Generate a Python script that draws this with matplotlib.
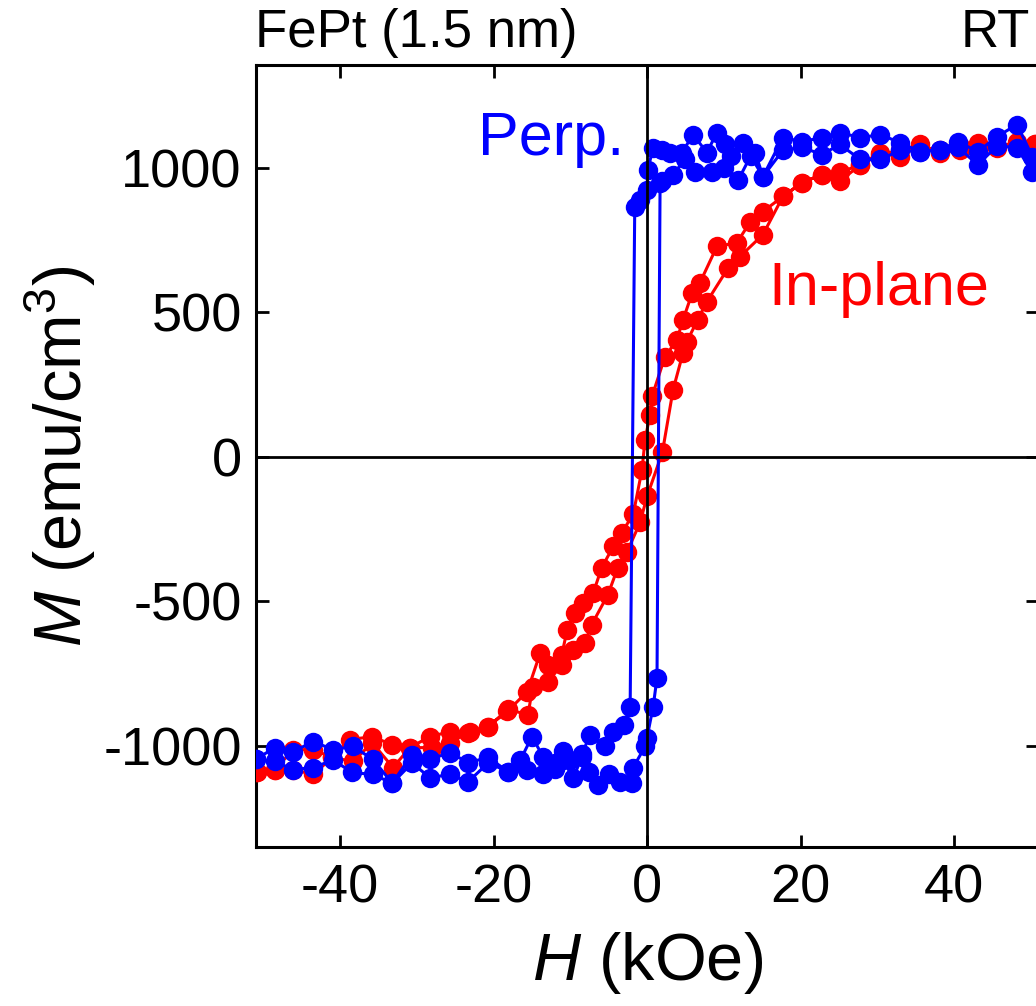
import numpy as np
import matplotlib
matplotlib.use("Agg")
import matplotlib.pyplot as plt

# ------------------------------------------------------------
# data: M-H loops of FePt (1.5 nm)
# ------------------------------------------------------------

# in-plane, field sweep +50 -> -50 kOe
inp_down_H = [50.5, 48.2, 45.6, 43.1, 40.8, 38.2, 35.6, 33.0, 30.4, 27.8, 25.1, 22.8,
              20.2, 17.7, 15.1, 13.4, 11.7, 9.1, 6.9, 5.9, 4.7, 3.9, 2.3, 0.65, 0.4,
              -0.26, -0.65, -1.8, -3.3, -4.4, -5.9, -7.0, -8.3, -9.4, -10.4, -11.1,
              -12.9, -13.9, -15.6, -18.2, -20.7, -23.3, -25.7, -28.3, -30.9, -33.2,
              -35.8, -38.7, -41.0, -43.5, -46.1, -48.5, -50.8]
inp_down_M = [1080, 1090, 1069, 1086, 1062, 1052, 1080, 1038, 1052, 1010, 983, 976,
              948, 900, 848, 810, 740, 727, 602, 567, 474, 405, 343, 208, 145,
              59, -45, -200, -263, -311, -384, -471, -505, -540, -599, -685,
              -720, -678, -813, -882, -934, -955, -952, -969, -1007, -997,
              -969, -979, -1041, -1014, -1014, -1083, -1090]

# in-plane, field sweep -50 -> +50 kOe
inp_up_H = [-50.8, -48.5, -46.1, -43.5, -41.0, -38.3, -35.8, -33.1, -30.9, -28.0, -25.7,
            -23.1, -20.7, -18.1, -15.5, -14.9, -12.9, -11.1, -9.6, -8.1, -7.2, -5.1, -3.8,
            -2.6, -0.9, 0.0, 2.0, 3.4, 4.7, 5.2, 6.6, 7.8, 10.6, 12.1, 15.1, 17.7, 20.2,
            22.8, 25.1, 27.8, 30.4, 33.0, 35.6, 38.2, 40.8, 43.1, 45.6, 48.2, 50.5]
inp_up_M = [-1090, -1083, -1083, -1100, -1041, -1055, -990, -1076, -1007, -1007, -990,
            -952, -934, -875, -893, -796, -779, -720, -668, -644, -581, -478, -384,
            -329, -228, -138, 15, 232, 360, 398, 474, 536, 654, 692, 768, 900, 948,
            976, 952, 1010, 1045, 1060, 1062, 1060, 1075, 1060, 1075, 1080, 1080]

# perpendicular, field sweep +50 -> -50 kOe
perp_down_H = [50.2, 48.2, 45.6, 43.1, 40.5, 38.2, 35.6, 33.0, 30.4, 27.8, 25.1, 22.8,
               20.2, 17.7, 15.1, 14.1, 12.5, 11.0, 10.2, 9.1, 7.8, 6.0, 4.5, 3.0, 2.0,
               0.8, 0.1, 0.0, -0.9, -1.6, -2.2, -3.0, -4.4, -5.5, -7.4, -8.5, -10.0,
               -11.0, -12.0, -13.5, -15.0, -16.5, -18.1, -20.7, -23.3, -25.7, -28.3,
               -30.6, -33.2, -35.7, -38.3, -40.9, -43.5, -46.1, -48.5, -51.0]
perp_down_M = [1038, 1149, 1107, 1055, 1090, 1062, 1055, 1086, 1114, 1104, 1121, 1104,
               1090, 1104, 969, 1052, 1086, 1040, 1080, 1121, 1052, 1114, 1050, 1052, 1060,
               1069, 993, 924, 889, 865, -865, -930, -952, -1000, -962, -1030, -1050,
               -1020, -1060, -1040, -969, -1050, -1090, -1041, -1059, -1024, -1048,
               -1031, -1130, -1048, -1003, -1014, -986, -1021, -1007, -1048]

# perpendicular, field sweep -50 -> +50 kOe
perp_up_H = [-51.0, -48.5, -46.1, -43.5, -40.9, -38.4, -35.7, -33.2, -30.6, -28.3, -25.7,
             -23.3, -20.7, -18.1, -15.6, -13.5, -12.0, -11.0, -9.6, -8.5, -7.5, -6.4, -5.0,
             -3.5, -2.0, -1.8, -0.26, 0.0, 0.8, 1.3, 1.7, 2.0, 3.4, 5.0, 6.2, 8.5, 10.0,
             11.9, 13.5, 15.1, 17.7, 20.2, 22.8, 25.1, 27.8, 30.4, 33.0, 35.6, 38.2,
             40.5, 43.1, 45.6, 48.2, 50.2]
perp_up_M = [-1048, -1055, -1083, -1076, -1050, -1093, -1100, -1130, -1060, -1111, -1100,
             -1125, -1060, -1090, -1083, -1100, -1080, -1050, -1111, -1040, -1090, -1135, -1100,
             -1125, -1128, -1076, -1003, -972, -865, -765, 948, 952, 976, 1030, 986, 986, 1000,
             958, 1040, 969, 1060, 1070, 1045, 1080, 1028, 1028, 1060, 1055, 1062,
             1070, 1010, 1075, 1069, 983]

x_ticks = [-40, -20, 0, 20, 40]
y_ticks = [-1000, -500, 0, 500, 1000]

# ------------------------------------------------------------
# style
# ------------------------------------------------------------
plt.rcParams['font.family'] = ['Liberation Sans', 'DejaVu Sans']
plt.rcParams['mathtext.fontset'] = 'custom'
plt.rcParams['mathtext.rm'] = 'Liberation Sans'
plt.rcParams['mathtext.it'] = 'Liberation Sans:italic'
plt.rcParams['axes.unicode_minus'] = False

RED = '#ff0000'
BLUE = '#0000ff'

fig = plt.figure(figsize=(10.36, 10.06), dpi=100)
ax = fig.add_axes([0.2467, 0.1583, 0.7557, 0.7771])

inp_H = np.array(inp_down_H + inp_up_H)
inp_M = np.array(inp_down_M + inp_up_M)
perp_H = np.array(perp_down_H + perp_up_H)
perp_M = np.array(perp_down_M + perp_up_M)

ax.plot(inp_H, inp_M, '-o', color=RED, lw=2.2, ms=14, mew=0, zorder=3)
ax.plot(perp_H, perp_M, '-o', color=BLUE, lw=2.2, ms=14, mew=0, zorder=4)

ax.axhline(0, color='black', lw=2.0, zorder=5)
ax.axvline(0, color='black', lw=2.0, zorder=5)

ax.set_xlim(-51, 51)
ax.set_ylim(-1350, 1355)
ax.set_xticks(x_ticks)
ax.set_yticks(y_ticks)

for s in ax.spines.values():
    s.set_linewidth(2.2)

ax.tick_params(direction='in', length=9, width=2, labelsize=39,
               top=True, right=True, pad=12)
ax.tick_params(axis='y', pad=10)

ax.set_xlabel('$H$ (kOe)', fontsize=48, labelpad=12)
ax.set_ylabel('$M$ (emu/cm$^3$)', fontsize=48, labelpad=4)

ax.text(-22.0, 1045, 'Perp.', color=BLUE, fontsize=44, va='baseline', ha='left')
ax.text(15.8, 526, 'In-plane', color=RED, fontsize=44, va='baseline', ha='left')

fig.text(255 / 1036, 1 - 47 / 1006, 'FePt (1.5 nm)', fontsize=38,
         va='baseline', ha='left')
fig.text(1030 / 1036, 1 - 47 / 1006, 'RT', fontsize=38, va='baseline', ha='right')

fig.savefig('out.png', dpi=100)
